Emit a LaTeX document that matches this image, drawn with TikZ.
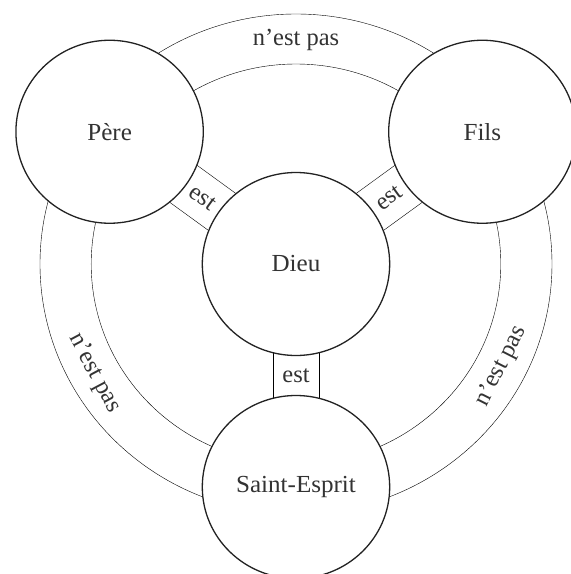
\documentclass[tikz,border=0pt]{standalone}
\usepackage{fontspec}
\setmainfont{Liberation Serif}
\pgfdeclarelayer{bg}
\pgfsetlayers{bg,main}
\definecolor{ink}{HTML}{222222}
\definecolor{lettering}{HTML}{333333}
\begin{document}
\begin{tikzpicture}[x=1pt,y=1pt,line width=1.3pt,color=ink,
  txt/.style={font=\fontsize{24.5}{29}\selectfont,text=lettering},
  person/.style={circle,draw,fill=white,minimum size=183pt,inner sep=0pt,transform shape,txt},
  estbox/.style={draw,rectangle,minimum width=72pt,minimum height=46pt,inner sep=0pt,txt},
  lbl/.style={txt,inner sep=0pt}]
\useasboundingbox (-296,264) rectangle (275,-310);
\begin{scope}[xscale=1.024]
  \node[person] (dieu) at (0,0) {Dieu};
  \node[person] (pere) at (144:225) {Père};
  \node[person] (fils) at (36:225) {Fils};
  \node[person] (esprit) at (270:223) {Saint-Esprit};
  \begin{pgfonlayer}{bg}
    \draw (dieu.center) circle (250);
    \draw (dieu.center) circle (200);
    \path (dieu.center) -- (pere.center) node[estbox,sloped,pos=0.5] {est};
    \path (dieu.center) -- (fils.center) node[estbox,sloped,pos=0.5] {est};
    \path (dieu.center) -- (esprit.center) node[estbox,minimum width=46pt,minimum height=72pt,pos=0.5] {est};
  \end{pgfonlayer}
  \node[lbl] (top) at (90:224) {n’est pas};
  \node[lbl,rotate=-62] (left) at (209:225) {n’est pas};
  \node[lbl,rotate=63] (right) at (333:225) {n’est pas};
\end{scope}
\end{tikzpicture}
\end{document}
